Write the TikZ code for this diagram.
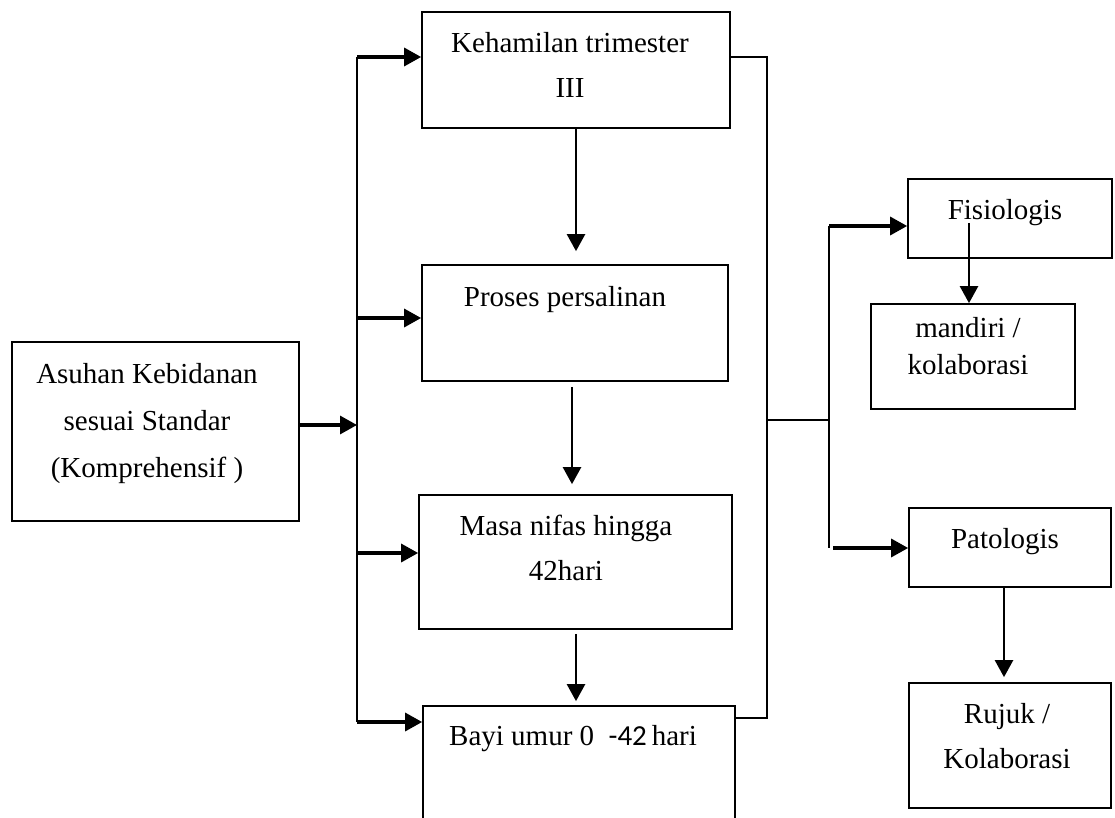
\documentclass[tikz,border=0pt]{standalone}
\usepackage{fontspec}
\setmainfont{Liberation Serif}
\newfontfamily\calibri{Carlito}
\usetikzlibrary{arrows.meta}
\tikzset{
  box/.style={draw,line width=1.7pt,inner sep=0pt},
  txt/.style={anchor=base,align=center,inner sep=0pt,font=\fontsize{29}{45}\selectfont},
  arr/.style={line width=3.2pt,-{Triangle[length=17pt,width=18pt]}},
  darr/.style={line width=2.4pt,-{Triangle[length=17pt,width=18pt]}},
  bus/.style={line width=1.5pt}
}
\begin{document}
\begin{tikzpicture}[x=1pt,y=-1pt]
\clip (0,0) rectangle (1115,818);
\fill[white] (0,0) rectangle (1115,818);
% boxes
\node[box,minimum width=287pt,minimum height=179pt] (asuhan) at (155.5,431.5) {};
\node[box,minimum width=308pt,minimum height=116pt] (hamil) at (576,70) {};
\node[box,minimum width=306pt,minimum height=116pt] (proses) at (575,323) {};
\node[box,minimum width=313pt,minimum height=134pt] (nifas) at (575.5,562) {};
\node[box,minimum width=312pt,minimum height=130pt] (bayi) at (579,771) {};
\node[box,minimum width=204pt,minimum height=79pt] (fisio) at (1010,218.5) {};
\node[box,minimum width=204pt,minimum height=105pt] (mandiri) at (973,356.5) {};
\node[box,minimum width=202pt,minimum height=79pt] (pato) at (1010,547.5) {};
\node[box,minimum width=202pt,minimum height=125pt] (rujuk) at (1010,745.5) {};
% texts (base = last line)
\node[txt] (asuhan-t) at (147,477) {Asuhan Kebidanan\\[2pt]sesuai Standar\\[2pt](Komprehensif )};
\node[txt] (hamil-t) at (570,98) {Kehamilan trimester\\III};
\node[txt] (proses-t) at (565,306) {Proses persalinan};
\node[txt] (nifas-t) at (566,580) {Masa nifas hingga\\42hari};
\node[txt] (bayi-t) at (573,745) {Bayi umur 0 \ {\calibri -42}\,hari};
\node[txt] (fisio-t) at (1005,220) {Fisiologis};
\node[txt] (mandiri-t) at (968,374) {mandiri /\\[-8pt]kolaborasi};
\node[txt] (pato-t) at (1005,548) {Patologis};
\node[txt] (rujuk-t) at (1007,768) {Rujuk /\\Kolaborasi};
% left bus
\coordinate (b1) at (357,57);
\coordinate (b2) at (357,318);
\coordinate (in) at (357,425);
\coordinate (b3) at (357,553);
\coordinate (b4) at (357,722);
\draw[bus] (b1) -- (b4);
\draw[arr] (in -| asuhan.east) -- (in);
\draw[arr] (b1) -- (b1 -| hamil.west);
\draw[arr] (b2) -- (b2 -| proses.west);
\draw[arr] (b3) -- (b3 -| nifas.west);
\draw[arr] (b4) -- (b4 -| bayi.west);
% down arrows
\draw[darr,shorten >=13pt] (hamil.south) -- (hamil.south |- proses.north);
\draw[darr,shorten <=5pt,shorten >=10pt] ([xshift=-3pt]proses.south) -- ([xshift=-3pt]proses.south |- nifas.north);
\draw[darr,shorten <=4pt,shorten >=4pt] ([xshift=0.5pt]nifas.south) -- ([xshift=0.5pt]nifas.south |- bayi.north);
% right bus
\coordinate (r1) at (767,57);
\coordinate (r4) at (767,718);
\coordinate (m) at (767,420);
\coordinate (m1) at (829,226);
\coordinate (m2) at (829,548);
\draw[bus] (r1 -| hamil.east) -- (r1) -- (r4) -- (r4 -| bayi.east);
\draw[bus] (m) -- (m -| m1);
\draw[bus] (m1) -- (m2);
\draw[arr] (m1) -- (m1 -| fisio.west);
\draw[arr] ([xshift=4pt]m2) -- (m2 -| pato.west);
\coordinate (f) at (969,223);
\draw[darr] (f) -- (f |- mandiri.north);
\draw[darr,shorten >=5pt] ([xshift=-6pt]pato.south) -- ([xshift=-6pt]pato.south |- rujuk.north);
\end{tikzpicture}
\end{document}
